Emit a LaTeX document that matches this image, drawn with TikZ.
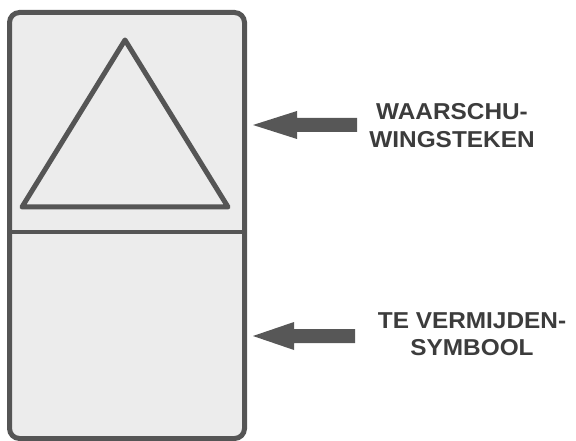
\documentclass[tikz,border=0pt]{standalone}
\usepackage{fontspec}
\setmainfont{Liberation Sans}
\newfontfamily\lblfont[FakeStretch=1.06]{Liberation Sans}
\definecolor{frame}{HTML}{555555}
\definecolor{panel}{HTML}{ECECEC}
\definecolor{arrowc}{HTML}{575757}
\definecolor{txt}{HTML}{3C3C3C}
\begin{document}
\begin{tikzpicture}[x=1pt,y=-1pt,
  outline/.style={draw=frame,line width=5pt,fill=panel,rounded corners=10pt},
  divider/.style={draw=frame,line width=3.2pt},
  warn/.style={draw=frame,line width=5pt,line join=round,fill=panel},
  bigarrow/.style={fill=arrowc,draw=none},
  lbl/.style={text=txt,font=\lblfont\bfseries\fontsize{23}{27.5}\selectfont,align=center,inner sep=0pt}
]
\useasboundingbox (0,0) rectangle (576,441);
\path[outline] (9.5,12.5) rectangle (244.5,438.5);
\draw[divider] (8,232) -- (246,232);
\draw[warn] (125,40) -- (228,207) -- (22,207) -- cycle;
% upper arrow
\fill[bigarrow] (253,125) -- (297,111) -- (297,118) -- (357,118) -- (357,132) -- (297,132) -- (297,139) -- cycle;
% lower arrow
\fill[bigarrow] (253,336) -- (294,322) -- (294,329) -- (355,329) -- (355,343) -- (294,343) -- (294,350) -- cycle;
\node[lbl] (w) at (452,125.5) {WAARSCHU-\\WINGSTEKEN};
\node[lbl] (t) at (472,334) {TE VERMIJDEN-\\SYMBOOL};
\end{tikzpicture}
\end{document}
